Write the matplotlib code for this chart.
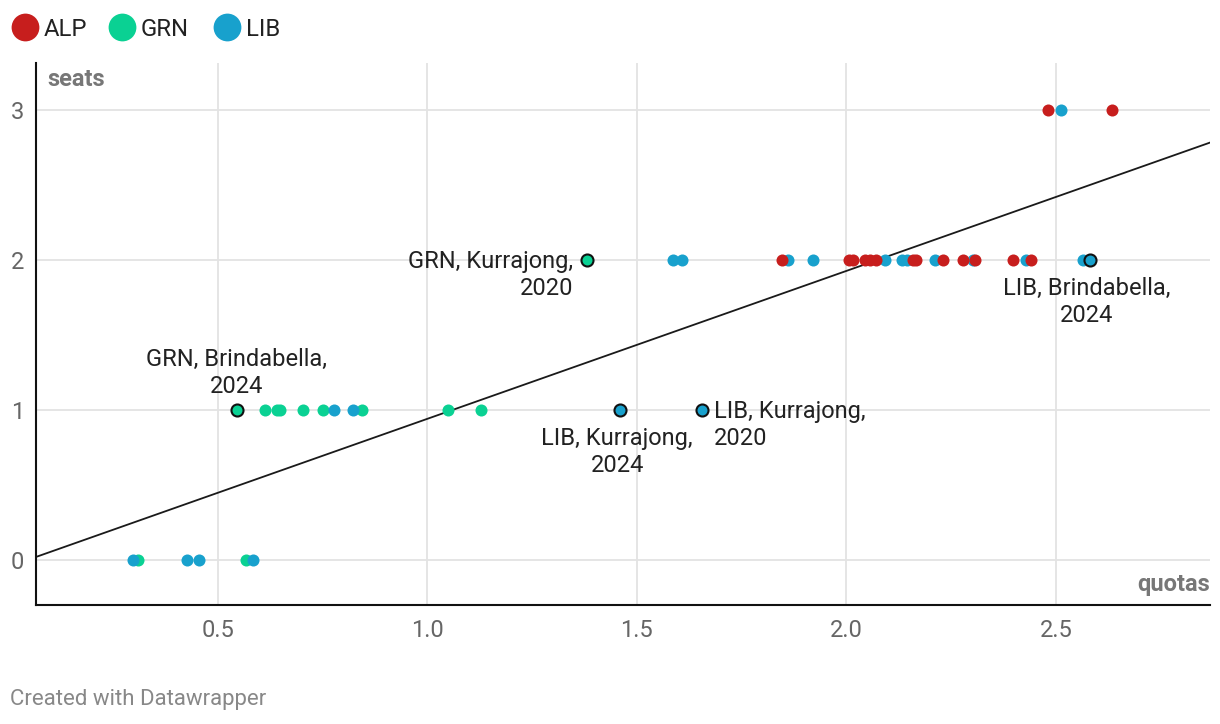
import matplotlib.pyplot as plt

plt.rcParams['font.family'] = ['Roboto', 'DejaVu Sans']

# colours per party
colors = {"ALP": "#c71e1d", "GRN": "#0ad193", "LIB": "#18a1cd"}
parties = ["ALP", "GRN", "LIB"]

# ALP points (quotas, seats)
alp_quotas = [1.846, 2.006, 2.015, 2.044, 2.056, 2.070, 2.158, 2.167, 2.230, 2.278,
              2.307, 2.397, 2.440, 2.481, 2.634]
alp_seats = [2, 2, 2, 2, 2, 2, 2, 2, 2, 2, 2, 2, 2, 3, 3]

# GRN points
grn_quotas = [0.309, 0.567, 0.612, 0.641, 0.648, 0.703, 0.751, 0.844, 1.049, 1.128]
grn_seats = [0, 0, 1, 1, 1, 1, 1, 1, 1, 1]

# LIB points
lib_quotas = [0.297, 0.426, 0.455, 0.584, 0.777, 0.822, 1.586, 1.607, 1.860, 1.920,
              2.092, 2.132, 2.144, 2.211, 2.302, 2.429, 2.564, 2.512]
lib_seats = [0, 0, 0, 0, 1, 1, 2, 2, 2, 2, 2, 2, 2, 2, 2, 2, 2, 3]

# highlighted points with labels
hl_quotas = [1.380, 0.545, 1.459, 1.655, 2.581]
hl_seats = [2, 1, 1, 1, 2]
hl_party = ["GRN", "GRN", "LIB", "LIB", "LIB"]
hl_labels = ["GRN, Kurrajong,\n2020", "GRN, Brindabella,\n2024", "LIB, Kurrajong,\n2024",
             "LIB, Kurrajong,\n2020", "LIB, Brindabella,\n2024"]
# label placement: (dx px, dy px, ha, va)
hl_pos = [(-13, 9.5, "right", "top"),
          (0, 12, "center", "bottom"),
          (-2.5, -17, "center", "top"),
          (12, 9.5, "left", "top"),
          (-3, -17, "center", "top")]

# trend line
slope = 0.985
intercept = -0.045

fig = plt.figure(figsize=(12.2, 7.24), dpi=100)
ax = fig.add_axes([36 / 1220, 1 - 605 / 724, (1210 - 36) / 1220, (605 - 63) / 724])

ax.set_xlim(0.066, 2.868)
ax.set_ylim(-0.3, 3.31)

ax.set_xticks([0.5, 1.0, 1.5, 2.0, 2.5])
ax.set_xticklabels(["0.5", "1.0", "1.5", "2.0", "2.5"])
ax.set_yticks([0, 1, 2, 3])
ax.grid(True, color="#e3e3e3", linewidth=1.3, zorder=0)
ax.set_axisbelow(True)
ax.tick_params(length=0, labelsize=17, labelcolor="#666666")
ax.tick_params(axis="x", pad=10)
ax.tick_params(axis="y", pad=8.6)

for s in ["top", "right"]:
    ax.spines[s].set_visible(False)
for s in ["left", "bottom"]:
    ax.spines[s].set_color("#111111")
    ax.spines[s].set_linewidth(1.5)

xs = [0.066, 2.868]
ax.plot(xs, [slope * x + intercept for x in xs], color="#1a1a1a", linewidth=1.3, zorder=2)

ax.scatter(grn_quotas, grn_seats, s=75, color=colors["GRN"], linewidths=0, zorder=3)
ax.scatter(lib_quotas, lib_seats, s=75, color=colors["LIB"], linewidths=0, zorder=3)
ax.scatter(alp_quotas, alp_seats, s=75, color=colors["ALP"], linewidths=0, zorder=3)

for i in range(len(hl_quotas)):
    ax.scatter(hl_quotas[i], hl_seats[i], s=75, color=colors[hl_party[i]],
               edgecolors="#111111", linewidths=1.5, zorder=4)
    dx, dy, ha, va = hl_pos[i]
    ax.annotate(hl_labels[i], (hl_quotas[i], hl_seats[i]), xytext=(dx, dy),
                textcoords="offset pixels", ha=ha, va=va, multialignment=ha,
                fontsize=17, color="#222222", linespacing=1.23, zorder=5)

ax.annotate("seats", (0, 1), xycoords="axes fraction", xytext=(11, -5),
            textcoords="offset pixels", ha="left", va="top",
            fontsize=17, fontweight="bold", color="#777777")
ax.annotate("quotas", (1, 0), xycoords="axes fraction", xytext=(0, 14),
            textcoords="offset pixels", ha="right", va="baseline",
            fontsize=17, fontweight="bold", color="#777777")

# legend drawn on an overlay in pixel coords
lg = fig.add_axes([0, 0, 1, 1])
lg.set_xlim(0, 1220)
lg.set_ylim(724, 0)
lg.axis("off")
leg_x = [25, 122, 227]
for p, x in zip(parties, leg_x):
    lg.plot(x, 27, marker="o", markersize=20, markerfacecolor=colors[p],
            markeredgewidth=0, linestyle="")
    lg.text(x + 19, 27, p, ha="left", va="center_baseline", fontsize=17.2, color="#222222")

fig.text(10 / 1220, 1 - 700 / 724, "Created with Datawrapper", ha="left", va="center",
         fontsize=16, color="#888888")

fig.savefig("out.png", dpi=100)
